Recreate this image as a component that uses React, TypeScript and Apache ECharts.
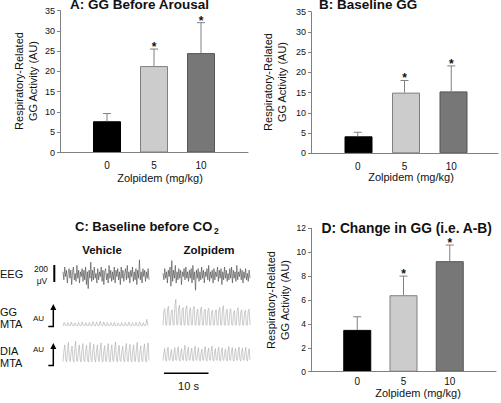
import React, { useEffect, useRef } from "react";
import * as echarts from "echarts";

// ---------- data ----------
const doses = ["0", "5", "10"];
const barColors = ["#000000", "#cccccc", "#777777"];
const barBorders = ["#000000", "#808080", "#555555"];
const significance = ["", "*", "*"];

const panelAMean = [7.7, 21.3, 24.5];
const panelASem = [1.9, 4.2, 7.5];
const panelBMean = [4.2, 15.0, 15.3];
const panelBSem = [1.0, 3.0, 6.3];
const panelDMean = [3.5, 6.4, 9.25];
const panelDSem = [1.1, 1.6, 1.35];

const titleA = "A: GG Before Arousal";
const titleB = "B: Baseline GG";
const titleC = "C: Baseline before CO";
const titleD = "D: Change in GG (i.e. A-B)";
const xAxisName = "Zolpidem (mg/kg)";
const yAxisName = "Respiratory-Related\nGG Activity (AU)";

// Panel C traces (relative units)
const eegVehicle = [
  0.2, -0.3, 0.5, -0.1, 0.3, -0.5, 0.1, 0.4, -0.2, 0.3,
  -0.6, 0.2, 0.5, -0.3, 0.1, -0.4, 0.6, -0.2, 0.3, -0.5,
  0.2, -0.1, 0.4, -0.4, 0.3, -0.3, 0.5, -0.6, 0.2, -0.85,
  0.3, -0.2, 0.8, -0.4, 0.3, -0.3, 0.5, -0.2, 0.1, -0.5,
  0.4, -0.3, 0.2, -0.1, 0.5, -0.4, 0.3, -0.6, 0.2, 0.4,
  -0.3, 0.1, -0.5, 0.6, -0.2, 0.3, -0.4, 0.2, -0.3, 0.5,
  -0.5, 0.3, -0.1, 0.4, -0.3, 0.2, -0.6, 0.5, -0.2, 0.3,
  -0.4, 0.1, 0.4, -0.3, 0.6, -0.2, 0.2, -0.5, 0.3, -0.1,
  0.5, -0.4, 0.2, -0.3, 0.4, -0.6, 0.3, -0.2, 0.95, -0.3,
  0.2, -0.5, 0.4, -0.1, 0.3, -0.4, 0.2, -0.2, 0.4, -0.3,
];
const eegZolpidem = [
  0.1, -0.3, 0.4, -0.2, 0.2, -0.5, 0.3, -0.1, 0.5, -0.7,
  0.9, -0.4, 0.3, -0.2, 0.6, -0.5, 0.2, -0.3, 0.4, -0.2,
  0.3, -0.6, 0.2, -0.1, 0.4, -0.3, 0.5, -0.2, 0.2, -0.4,
  0.3, -0.2, 0.4, -0.5, 0.6, -0.3, 0.2, -0.95, 0.3, -0.2,
  0.4, -0.4, 0.2, -0.3, 0.5, -0.2, 0.3, -0.5, 0.2, -0.1,
  0.4, -0.3, 0.6, -0.4, 0.2, -0.2, 0.3, -0.5, 0.4, -0.3,
  0.2, -0.1, 0.5, -0.4, 0.3, -0.2, 0.4, -0.6, 0.2, -0.3,
  0.5, -0.2, 0.3, -0.4, 0.1, -0.3, 0.4, -0.2, 0.5, -0.5,
  0.3, -0.2, 0.2, -0.4, 0.6, -0.3, 0.2, -0.1, 0.4, -0.3,
  0.3, -0.5, 0.2, -0.2, 0.4, -0.3, 0.1, -0.4, 0.3, -0.2,
];
const ggVehicle = [
  0, 0.13, 0.02, 0, 0.12, 0.01, 0, 0.14, 0.02, 0, 0.11, 0.01,
  0, 0.13, 0.02, 0, 0.15, 0.03, 0, 0.12, 0.01, 0, 0.13, 0.02,
  0, 0.16, 0.03, 0, 0.14, 0.02, 0, 0.17, 0.04, 0, 0.15, 0.02,
  0, 0.13, 0.01, 0, 0.12, 0.02, 0, 0.14, 0.01, 0, 0.11, 0.02,
  0, 0.13, 0.01, 0, 0.12, 0.02, 0, 0.14, 0.01, 0, 0.12, 0.02,
  0, 0.13, 0.01, 0, 0.15, 0.02, 0, 0.12, 0.01, 0, 0.24, 0.02,
];
const ggZolpidem = [
  0.02, 0.55, 0.62, 0.05, 0.02, 0.6, 0.7, 0.04, 0.03, 0.5, 0.58, 0.05,
  0.02, 0.72, 0.95, 0.06, 0.03, 0.6, 0.75, 0.05, 0.02, 0.58, 0.66, 0.04,
  0.03, 0.62, 0.72, 0.05, 0.02, 0.55, 0.65, 0.04, 0.03, 0.6, 0.7, 0.06,
  0.02, 0.5, 0.6, 0.04, 0.03, 0.58, 0.68, 0.05, 0.02, 0.52, 0.6, 0.04,
  0.03, 0.55, 0.63, 0.05, 0.02, 0.5, 0.57, 0.04, 0.03, 0.48, 0.58, 0.05,
  0.02, 0.55, 0.66, 0.04, 0.03, 0.6, 0.72, 0.05, 0.02, 0.5, 0.6, 0.04,
  0.03, 0.52, 0.62, 0.05, 0.02, 0.46, 0.55, 0.04, 0.03, 0.55, 0.65, 0.05,
  0.02, 0.5, 0.58, 0.04, 0.03, 0.48, 0.56, 0.05, 0.02, 0.52, 0.6, 0.04,
];
const diaVehicle = [
  0.1, 0.55, 0.8, 0.2, 0.08, 0.6, 0.9, 0.15, 0.1, 0.5, 0.75, 0.2,
  0.08, 0.65, 0.95, 0.15, 0.1, 0.55, 0.8, 0.2, 0.08, 0.6, 0.85, 0.18,
  0.1, 0.5, 0.78, 0.2, 0.08, 0.62, 0.9, 0.15, 0.1, 0.58, 0.82, 0.2,
  0.08, 0.55, 0.8, 0.16, 0.1, 0.6, 0.88, 0.2, 0.08, 0.52, 0.76, 0.15,
  0.1, 0.6, 0.85, 0.2, 0.08, 0.56, 0.8, 0.16, 0.1, 0.62, 0.92, 0.2,
  0.08, 0.55, 0.78, 0.15, 0.1, 0.5, 0.74, 0.2, 0.08, 0.6, 0.86, 0.16,
  0.1, 0.58, 0.82, 0.2, 0.08, 0.55, 0.8, 0.15, 0.1, 0.62, 0.9, 0.2,
  0.08, 0.52, 0.76, 0.16, 0.1, 0.58, 0.84, 0.2, 0.08, 0.6, 0.88, 0.15,
];
const diaZolpidem = [
  0.15, 0.45, 0.65, 0.2, 0.12, 0.5, 0.7, 0.18, 0.15, 0.42, 0.6, 0.2,
  0.12, 0.48, 0.68, 0.18, 0.15, 0.52, 0.72, 0.2, 0.12, 0.45, 0.64, 0.18,
  0.15, 0.55, 0.78, 0.2, 0.12, 0.5, 0.7, 0.18, 0.15, 0.46, 0.66, 0.2,
  0.12, 0.52, 0.74, 0.18, 0.15, 0.48, 0.68, 0.2, 0.12, 0.44, 0.62, 0.18,
  0.15, 0.5, 0.72, 0.2, 0.12, 0.47, 0.66, 0.18, 0.15, 0.53, 0.75, 0.2,
  0.12, 0.45, 0.64, 0.18, 0.15, 0.5, 0.7, 0.2, 0.12, 0.48, 0.68, 0.18,
  0.15, 0.44, 0.63, 0.2, 0.12, 0.52, 0.73, 0.18, 0.15, 0.49, 0.69, 0.2,
  0.12, 0.46, 0.65, 0.18, 0.15, 0.51, 0.71, 0.2, 0.12, 0.47, 0.67, 0.18,
  0.15, 0.5, 0.7, 0.2, 0.12, 0.45, 0.64, 0.18,
];

const FONT = "'Liberation Sans', Arial, Helvetica, sans-serif";
const AXIS_GRAY = "#808080";

const txt = (text: string, x: number, y: number, size: number, bold = false, align = "left", rotation = 0) => ({
  type: "text",
  x,
  y,
  rotation,
  silent: true,
  style: {
    text,
    fill: "#111",
    fontSize: size,
    fontWeight: bold ? "bold" : "normal",
    fontFamily: FONT,
    textAlign: align,
    textVerticalAlign: "middle",
    lineHeight: 14,
  },
});
const ln = (x1: number, y1: number, x2: number, y2: number, w: number) => ({
  type: "line",
  silent: true,
  shape: { x1, y1, x2, y2 },
  style: { stroke: "#000", lineWidth: w },
});
const arrowHead = (x: number, yTip: number) => ({
  type: "polygon",
  silent: true,
  shape: { points: [[x - 3, yTip + 6], [x + 3, yTip + 6], [x, yTip]] },
  style: { fill: "#000" },
});

type BarPanel = {
  mean: number[];
  sem: number[];
  grid: any;
  max: number;
  interval: number;
  labelMargin: number;
  labelSize: number;
  title: string;
  titlePos: [number, number, number];
  xNamePos: [number, number];
  yNamePos: [number, number];
};

const panels: BarPanel[] = [
  { mean: panelAMean, sem: panelASem, grid: { left: 60, top: 10.5, width: 188, height: 142 }, max: 35, interval: 5, labelMargin: 8, labelSize: 9, title: titleA, titlePos: [70, 4.8, 13.5], xNamePos: [160, 177.5], yNamePos: [26, 81] },
  { mean: panelBMean, sem: panelBSem, grid: { left: 311, top: 11.7, width: 190, height: 141.6 }, max: 35, interval: 5, labelMargin: 8, labelSize: 9, title: titleB, titlePos: [319, 4.8, 13.5], xNamePos: [411, 177], yNamePos: [274.5, 82] },
  { mean: panelDMean, sem: panelDSem, grid: { left: 311, top: 228.3, width: 185, height: 143.4 }, max: 12, interval: 2, labelMargin: 5, labelSize: 8.5, title: titleD, titlePos: [321.5, 228.6, 13.8], xNamePos: [418, 393], yNamePos: [278, 300] },
];

// Base layer: bars and the value (y) axis only.
function barBaseOption(p: BarPanel) {
  return {
    animation: false,
    grid: { ...p.grid },
    xAxis: { type: "value", min: 0, max: doses.length + 1, interval: 1, show: false },
    yAxis: {
      type: "value",
      min: 0,
      max: p.max,
      interval: p.interval,
      axisLine: { show: true, lineStyle: { color: AXIS_GRAY, width: 1 } },
      axisTick: { show: true, length: 3 },
      axisLabel: { show: true, fontSize: p.labelSize, color: "#111", margin: 5 },
      splitLine: { show: false },
    },
    series: [
      {
        type: "bar",
        barWidth: 28,
        data: p.mean.map((v, i) => ({
          value: [i + 1, v],
          itemStyle: { color: barColors[i], borderColor: barBorders[i], borderWidth: 1 },
        })),
      },
    ],
  };
}

// Overlay layer: category (x) axes, error bars, panel C traces and all texts.
function overlayOption() {
  const doseLabel = (v: number) => (v >= 1 && v <= doses.length ? doses[v - 1] : "");
  const traces = [
    { data: eegVehicle, grid: { left: 63, top: 259, width: 86, height: 32 }, min: -1, max: 1, color: "#444444" },
    { data: eegZolpidem, grid: { left: 163, top: 259, width: 87, height: 32 }, min: -1, max: 1, color: "#444444" },
    { data: ggVehicle, grid: { left: 63, top: 298, width: 85, height: 28 }, min: 0, max: 1, color: "#aaaaaa" },
    { data: ggZolpidem, grid: { left: 163, top: 298, width: 87, height: 28 }, min: 0, max: 1, color: "#aaaaaa" },
    { data: diaVehicle, grid: { left: 63, top: 340, width: 86, height: 24 }, min: 0, max: 1, color: "#aaaaaa" },
    { data: diaZolpidem, grid: { left: 163, top: 340, width: 87, height: 24 }, min: 0, max: 1, color: "#aaaaaa" },
  ];
  const grids: any[] = [];
  const xAxes: any[] = [];
  const yAxes: any[] = [];
  const series: any[] = [];

  traces.forEach((t, i) => {
    grids.push({ ...t.grid });
    xAxes.push({ gridIndex: i, type: "value", min: 0, max: t.data.length - 1, show: false });
    yAxes.push({ gridIndex: i, type: "value", min: t.min, max: t.max, show: false });
    series.push({
      type: "line",
      xAxisIndex: i,
      yAxisIndex: i,
      data: t.data.map((v, k) => [k, v]),
      symbol: "none",
      silent: true,
      lineStyle: { width: 0.6, color: t.color },
    });
  });

  panels.forEach((p, k) => {
    const gi = traces.length + k;
    grids.push({ ...p.grid });
    xAxes.push({
      gridIndex: gi,
      type: "value",
      min: 0,
      max: doses.length + 1,
      interval: 1,
      axisLine: { show: true, onZero: false, lineStyle: { color: AXIS_GRAY, width: 1 } },
      axisTick: { show: false },
      axisLabel: { show: true, color: "#111", fontSize: 10, margin: p.labelMargin, fontFamily: FONT, formatter: doseLabel },
      splitLine: { show: false },
    });
    yAxes.push({ gridIndex: gi, type: "value", min: 0, max: p.max, interval: p.interval, show: false });
    series.push({
      type: "custom",
      xAxisIndex: gi,
      yAxisIndex: gi,
      silent: true,
      data: p.mean.map((v, i) => [i + 1, v, v + p.sem[i]]),
      renderItem: (params: any, api: any) => {
        const x = api.value(0);
        const p0 = api.coord([x, api.value(1)]);
        const p1 = api.coord([x, api.value(2)]);
        const children: any[] = [
          { type: "line", shape: { x1: p0[0], y1: p0[1], x2: p1[0], y2: p1[1] }, style: { stroke: AXIS_GRAY, lineWidth: 1 } },
          { type: "line", shape: { x1: p1[0] - 4, y1: p1[1], x2: p1[0] + 4, y2: p1[1] }, style: { stroke: AXIS_GRAY, lineWidth: 1 } },
        ];
        const sig = significance[params.dataIndex];
        if (sig) {
          children.push({
            type: "text",
            x: p1[0],
            y: p1[1] - 2,
            style: { text: sig, fill: "#111", fontSize: 12, fontWeight: "bold", fontFamily: FONT, textAlign: "center", textVerticalAlign: "middle" },
          });
        }
        return { type: "group", children };
      },
    });
  });

  const graphic: any[] = [
    ...panels.flatMap((p) => [
      txt(p.title, p.titlePos[0], p.titlePos[1], p.titlePos[2], true),
      txt(yAxisName, p.yNamePos[0], p.yNamePos[1], 11, false, "center", Math.PI / 2),
      txt(xAxisName, p.xNamePos[0], p.xNamePos[1], 11, false, "center"),
    ]),
    txt(titleC, 75, 226.3, 13, true),
    txt("2", 214, 231, 8.5, true),
    txt("Vehicle", 102, 249.5, 11.5, true, "center"),
    txt("Zolpidem", 209, 249.5, 11.5, true, "center"),
    txt("EEG", 0, 274, 11),
    txt("200", 41, 268.5, 8.5, false, "center"),
    txt("\u03bcV", 42, 280.5, 8.5, false, "center"),
    txt("GG", 0, 311.5, 11),
    txt("MTA", 0, 323.5, 11),
    txt("AU", 38.5, 318, 8, false, "center"),
    txt("DIA", 0, 350.7, 11),
    txt("MTA", 0, 363.3, 11),
    txt("AU", 38.5, 349, 8, false, "center"),
    txt("10 s", 188.5, 386, 11, false, "center"),
    ln(54.3, 265, 54.3, 282, 2),
    ln(53.3, 309, 53.3, 326.5, 1.5),
    arrowHead(53.3, 304),
    ln(48.3, 326.5, 54, 326.5, 1.5),
    ln(53.3, 348, 53.3, 365.5, 1.5),
    arrowHead(53.3, 343),
    ln(48.3, 365.5, 54, 365.5, 1.5),
    ln(164, 373.3, 208.5, 373.3, 1.5),
  ];

  return { animation: false, grid: grids, xAxis: xAxes, yAxis: yAxes, series, graphic };
}

const layerStyle: React.CSSProperties = { position: "absolute", left: 0, top: 0, width: 501, height: 403 };

export default function App() {
  const refA = useRef<HTMLDivElement>(null);
  const refB = useRef<HTMLDivElement>(null);
  const refD = useRef<HTMLDivElement>(null);
  const refO = useRef<HTMLDivElement>(null);
  useEffect(() => {
    const charts: echarts.ECharts[] = [];
    const mk = (el: HTMLDivElement | null, opt: any) => {
      if (!el) return;
      const c = echarts.init(el, undefined, { renderer: "svg" });
      c.setOption(opt);
      charts.push(c);
    };
    mk(refA.current, barBaseOption(panels[0]));
    mk(refB.current, barBaseOption(panels[1]));
    mk(refD.current, barBaseOption(panels[2]));
    mk(refO.current, overlayOption());
    return () => charts.forEach((c) => c.dispose());
  }, []);
  return (
    <div style={{ position: "fixed", left: 0, top: 0, width: 501, height: 403, background: "#fff" }}>
      <div ref={refA} style={layerStyle} />
      <div ref={refB} style={layerStyle} />
      <div ref={refD} style={layerStyle} />
      <div ref={refO} style={layerStyle} />
    </div>
  );
}
